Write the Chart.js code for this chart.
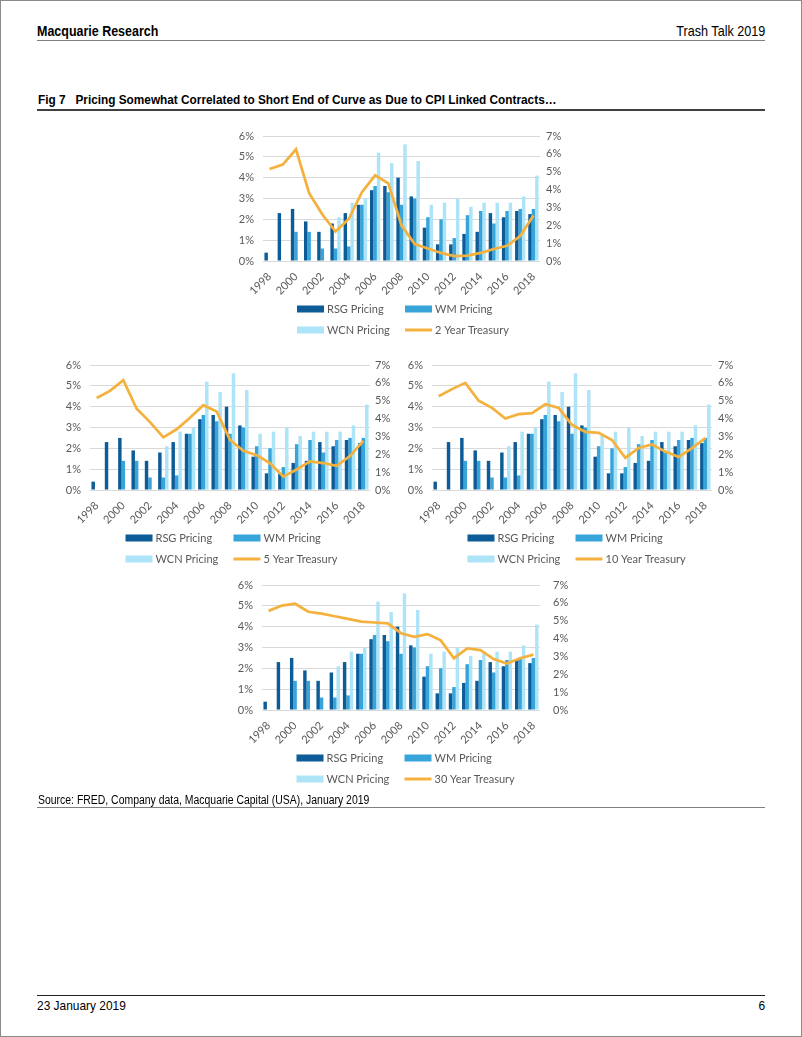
<!DOCTYPE html>
<html>
<head>
<meta charset="utf-8">
<script src="https://cdn.jsdelivr.net/npm/chart.js@4/dist/chart.umd.min.js"></script>
<style>
	html, body { margin: 0; padding: 0; background: #fff; }
	body { width: 802px; height: 1037px; position: relative; overflow: hidden;
		font-family: "Liberation Sans Narrow", "Arial Narrow", "Liberation Sans", sans-serif; color: #000; }
	.frame { position: absolute; left: 0; top: 0; width: 800px; height: 1035px; border: 1px solid #8a8a8a; }
	.txt { position: absolute; white-space: nowrap; transform-origin: left center; }
	.txt.r { transform-origin: right center; }
	.rule { position: absolute; left: 37px; width: 728px; }
	.box { position: absolute; }
</style>
</head>
<body>
<div class="frame"></div>

<div class="txt" style="left:37px; top:23px; font-size:14.5px; font-weight:bold; transform:scaleX(0.86);">Macquarie Research</div>
<div class="txt r" style="right:37px; top:23px; font-size:14.5px; transform:scaleX(0.87);">Trash Talk 2019</div>
<div class="rule" style="top:40px; border-top:1px solid #808080;"></div>

<div class="txt" style="left:38px; top:93px; font-size:12.5px; font-weight:bold; transform:scaleX(0.945);">Fig 7&nbsp;&nbsp;&nbsp;Pricing Somewhat Correlated to Short End of Curve as Due to CPI Linked Contracts…</div>
<div class="rule" style="top:109px; border-top:2px solid #404040;"></div>

<div class="box" style="left:230px; top:127px; width:342px; height:218px;"><canvas id="c2y"></canvas></div>
<div class="box" style="left:57px; top:356px; width:345px; height:218px;"><canvas id="c5y"></canvas></div>
<div class="box" style="left:399px; top:356px; width:345px; height:218px;"><canvas id="c10y"></canvas></div>
<div class="box" style="left:229px; top:576px; width:343px; height:218px;"><canvas id="c30y"></canvas></div>

<div class="txt" style="left:38px; top:793px; font-size:12px; transform:scaleX(0.87);">Source: FRED, Company data, Macquarie Capital (USA), January 2019</div>
<div class="rule" style="top:807px; border-top:1px solid #808080;"></div>

<div class="rule" style="top:995px; border-top:1px solid #202020;"></div>
<div class="txt" style="left:37px; top:998px; font-size:13px; transform:scaleX(0.917);">23 January 2019</div>
<div class="txt r" style="right:37px; top:998px; font-size:13px; transform:scaleX(0.917);">6</div>

<script>
// years on the category axis
const years = ['1998','1999','2000','2001','2002','2003','2004','2005','2006','2007','2008',
	'2009','2010','2011','2012','2013','2014','2015','2016','2017','2018'];

// pricing, % (left axis)
const rsgPricing = [0.4, 2.3, 2.5, 1.9, 1.4, 1.8, 2.3, 2.7, 3.4, 3.6, 4.0, 3.1, 1.6, 0.8, 0.8, 1.3, 1.4, 2.3, 2.1, 2.4, 2.25];
const wmPricing  = [null, null, 1.4, 1.4, 0.6, 0.6, 0.7, 2.7, 3.6, 3.3, 2.7, 3.0, 2.1, 2.0, 1.1, 2.2, 2.4, 1.8, 2.4, 2.5, 2.5];
const wcnPricing = [null, null, null, null, null, 2.1, 2.8, 3.0, 5.2, 4.7, 5.6, 4.8, 2.7, 2.8, 3.0, 2.6, 2.8, 2.8, 2.8, 3.1, 4.1];

// treasury yields, % (right axis)
const treasury2y  = [5.15, 5.4, 6.25, 3.8, 2.6, 1.65, 2.35, 3.85, 4.8, 4.35, 2.0, 0.95, 0.7, 0.45, 0.28, 0.3, 0.45, 0.67, 0.85, 1.4, 2.55];
const treasury5y  = [5.15, 5.55, 6.15, 4.55, 3.8, 2.95, 3.4, 4.05, 4.75, 4.4, 2.8, 2.2, 1.95, 1.5, 0.75, 1.15, 1.6, 1.5, 1.35, 1.9, 2.75];
const treasury10y = [5.25, 5.65, 6.0, 5.0, 4.6, 4.0, 4.25, 4.3, 4.8, 4.6, 3.65, 3.25, 3.2, 2.8, 1.8, 2.35, 2.55, 2.15, 1.85, 2.35, 2.9];
const treasury30y = [5.55, 5.85, 5.95, 5.5, 5.4, 5.25, 5.1, 4.95, 4.9, 4.85, 4.3, 4.1, 4.25, 3.9, 2.9, 3.45, 3.35, 2.85, 2.6, 2.9, 3.1];

const C_RSG = '#0d5c98';
const C_WM = '#37a4da';
const C_WCN = '#aee4f7';
const C_TSY = '#f5b13d';
const FONT = 'Lato, "Open Sans", sans-serif';
const TICK_COLOR = '#595959';

// legend in a 2x2 grid under the plot, like the Excel original
const gridLegend = {
	id: 'gridLegend',
	afterDraw(chart) {
		const ctx = chart.ctx;
		const cx = chart.width / 2;
		const top = chart.height - 50;
		ctx.save();
		ctx.font = '11px ' + FONT;
		ctx.textBaseline = 'middle';
		ctx.textAlign = 'left';
		chart.data.datasets.forEach((ds, i) => {
			const x = cx + (i % 2 === 0 ? -104 : 4);
			const y = top + 14 + Math.floor(i / 2) * 21;
			if (ds.type === 'line') {
				ctx.strokeStyle = ds.borderColor;
				ctx.lineWidth = 3;
				ctx.beginPath();
				ctx.moveTo(x, y);
				ctx.lineTo(x + 27, y);
				ctx.stroke();
			} else {
				ctx.fillStyle = ds.backgroundColor;
				ctx.fillRect(x, y - 3.5, 27, 7);
			}
			ctx.fillStyle = TICK_COLOR;
			ctx.fillText(ds.label, x + 30, y);
		});
		ctx.restore();
	}
};

// fixed axis width, and no extra label overhang pushing the plot area
function fixY(width) {
	return function (scale) {
		scale.width = width;
		scale.paddingTop = 0;
		scale.paddingBottom = 0;
	};
}

function makeChart(id, tsyLabel, tsyValues, rightPad) {
	new Chart(document.getElementById(id), {
		data: {
			labels: years,
			datasets: [
				{ type: 'bar', label: 'RSG Pricing', data: rsgPricing, backgroundColor: C_RSG, yAxisID: 'y', order: 1 },
				{ type: 'bar', label: 'WM Pricing', data: wmPricing, backgroundColor: C_WM, yAxisID: 'y', order: 1 },
				{ type: 'bar', label: 'WCN Pricing', data: wcnPricing, backgroundColor: C_WCN, yAxisID: 'y', order: 1 },
				{ type: 'line', label: tsyLabel, data: tsyValues, borderColor: C_TSY, backgroundColor: C_TSY,
					borderWidth: 2.75, pointRadius: 0, tension: 0, yAxisID: 'y1', order: 0 }
			]
		},
		options: {
			responsive: true,
			maintainAspectRatio: false,
			animation: false,
			datasets: { bar: { categoryPercentage: 0.78, barPercentage: 1.0 } },
			layout: { padding: { top: 9, bottom: 50, left: 0, right: 0 } },
			plugins: { legend: { display: false }, tooltip: { enabled: false } },
			scales: {
				x: {
					grid: { display: false },
					border: { display: false },
					afterFit(scale) { scale.height = 34; },
					ticks: {
						autoSkip: false, minRotation: 45, maxRotation: 45, padding: 1,
						color: TICK_COLOR, font: { family: FONT, size: 11 },
						callback(v, i) { return i % 2 === 0 ? years[i] : ''; }
					}
				},
				y: {
					position: 'left', min: 0, max: 6,
					grid: { color: '#d9d9d9', drawTicks: false },
					border: { display: false },
					afterFit: fixY(33),
					ticks: {
						stepSize: 1, padding: 9, color: TICK_COLOR, font: { family: FONT, size: 11 },
						callback(v) { return v + '%'; }
					}
				},
				y1: {
					position: 'right', min: 0, max: 7,
					grid: { display: false, drawTicks: false },
					border: { display: false },
					afterFit: fixY(32),
					ticks: {
						stepSize: 1, padding: rightPad, color: TICK_COLOR, font: { family: FONT, size: 11 },
						callback(v) { return v + '%'; }
					}
				}
			}
		},
		plugins: [gridLegend]
	});
}

makeChart('c2y', '2 Year Treasury', treasury2y, 6);
makeChart('c5y', '5 Year Treasury', treasury5y, 5);
makeChart('c10y', '10 Year Treasury', treasury10y, 6);
makeChart('c30y', '30 Year Treasury', treasury30y, 13);
</script>
</body>
</html>
